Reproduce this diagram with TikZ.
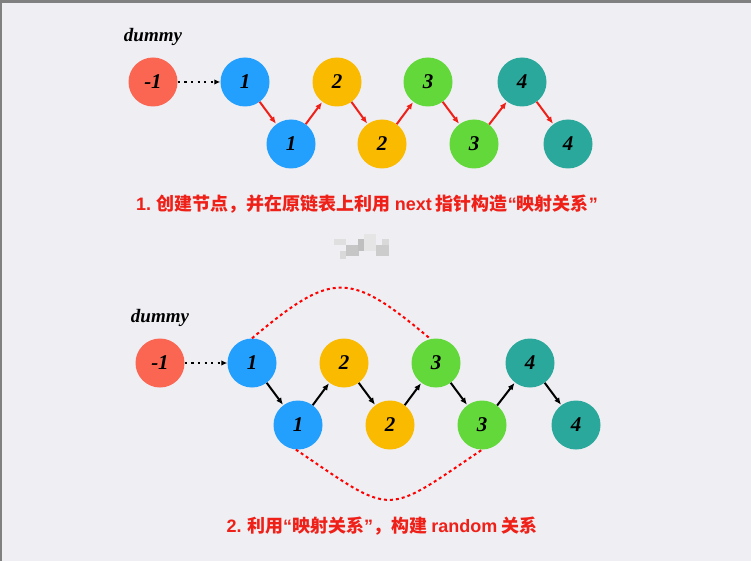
\documentclass[tikz,border=0pt]{standalone}
\usepackage{fontspec}
\setmainfont{Liberation Serif}
\newfontfamily\cjk{Noto Sans CJK SC}
\newfontfamily\lsans{Liberation Sans}
\usetikzlibrary{arrows.meta}
\definecolor{bgcol}{RGB}{239,238,243}
\definecolor{edgecol}{RGB}{128,128,128}
\definecolor{cred}{RGB}{250,102,82}
\definecolor{cblue}{RGB}{35,160,253}
\definecolor{cyellow}{RGB}{249,186,0}
\definecolor{cgreen}{RGB}{98,216,58}
\definecolor{cteal}{RGB}{42,168,155}
\definecolor{linkred}{RGB}{238,32,24}
\newcommand{\lat}[1]{{\lsans\bfseries #1}}
\begin{document}
\begin{tikzpicture}[x=1pt,y=-1pt,
		ball/.style={circle,inner sep=0pt,minimum size=49pt,
			font=\fontsize{21}{21}\selectfont\bfseries\itshape},
		nextred/.style={-{Latex[length=7pt,width=6pt]},line width=2pt,linkred,shorten >=0.5pt},
		nextblack/.style={-{Latex[length=7pt,width=6pt]},line width=2pt,black,shorten >=0.5pt},
		dotlink/.style={-{Latex[length=6pt,width=5.5pt]},line width=2.2pt,dash pattern=on 2.2pt off 4.4pt},
		randlink/.style={line width=2pt,red,dash pattern=on 3pt off 3pt},
		caption/.style={font=\cjk\fontsize{18}{18}\selectfont\bfseries,text=linkred}]
		\fill[edgecol](0,0) rectangle (751,561);
		\fill[bgcol](2,3) rectangle (751,561);
		\useasboundingbox (0,0) rectangle (751,561);
		
		% watermark
		\fill[gray!25](334,239) rectangle (346,245);
		\fill[gray!45](346,245) rectangle (359,256);
		\fill[gray!30](340,251) rectangle (346,259);
		\fill[gray!50](358,239) rectangle (364,251);
		\fill[gray!20](364,234) rectangle (376,251);
		\fill[gray!40](376,245) rectangle (389,256);
		\fill[gray!30](382,239) rectangle (389,245);
		
		% step 1
		\node[font=\fontsize{19}{19}\selectfont\bfseries\itshape] (dummyA) at (153,37) {dummy};
		\node[ball,fill=cred] (n0) at (153,82) {-1};
		\node[ball,fill=cblue] (o1) at (245,82) {1};
		\node[ball,fill=cyellow] (o2) at (337,82) {2};
		\node[ball,fill=cgreen] (o3) at (428,82) {3};
		\node[ball,fill=cteal] (o4) at (522,82) {4};
		\node[ball,fill=cblue] (c1) at (291,144) {1};
		\node[ball,fill=cyellow] (c2) at (382,144) {2};
		\node[ball,fill=cgreen] (c3) at (474,144) {3};
		\node[ball,fill=cteal] (c4) at (568,144) {4};
		
		\draw[dotlink](n0)--(o1);
		\draw[nextred](o1)--(c1);
		\draw[nextred](c1)--(o2);
		\draw[nextred](o2)--(c2);
		\draw[nextred](c2)--(o3);
		\draw[nextred](o3)--(c3);
		\draw[nextred](c3)--(o4);
		\draw[nextred](o4)--(c4);
		
		\node[caption] (capA) at (367,204) {\lat{1.} 创建节点，并在原链表上利用 \lat{next} 指针构造\lat{“}映射关系\lat{”}};
		
		% step 2
		\node[font=\fontsize{19}{19}\selectfont\bfseries\itshape] (dummyB) at (160,318) {dummy};
		\node[ball,fill=cred] (N0) at (160,363) {-1};
		\node[ball,fill=cblue] (O1) at (252,363) {1};
		\node[ball,fill=cyellow] (O2) at (344,363) {2};
		\node[ball,fill=cgreen] (O3) at (436,363) {3};
		\node[ball,fill=cteal] (O4) at (530,363) {4};
		\node[ball,fill=cblue] (C1) at (298,425) {1};
		\node[ball,fill=cyellow] (C2) at (390,425) {2};
		\node[ball,fill=cgreen] (C3) at (482,425) {3};
		\node[ball,fill=cteal] (C4) at (576,425) {4};
		
		\draw[dotlink](N0)--(O1);
		\draw[nextblack](O1)--(C1);
		\draw[nextblack](C1)--(O2);
		\draw[nextblack](O2)--(C2);
		\draw[nextblack](C2)--(O3);
		\draw[nextblack](O3)--(C3);
		\draw[nextblack](C3)--(O4);
		\draw[nextblack](O4)--(C4);
		
		\draw[randlink](O1.north) .. controls +(81,-68) and +(-81,-68) .. (O3.103);
		\draw[randlink](C1.265) .. controls +(99,67) and +(-99,67) .. (C3.south);
		
		\node[caption] (capB) at (382,526) {\lat{2.} 利用\lat{“}映射关系\lat{”}，构建 \lat{random} 关系};
\end{tikzpicture}
\end{document}
